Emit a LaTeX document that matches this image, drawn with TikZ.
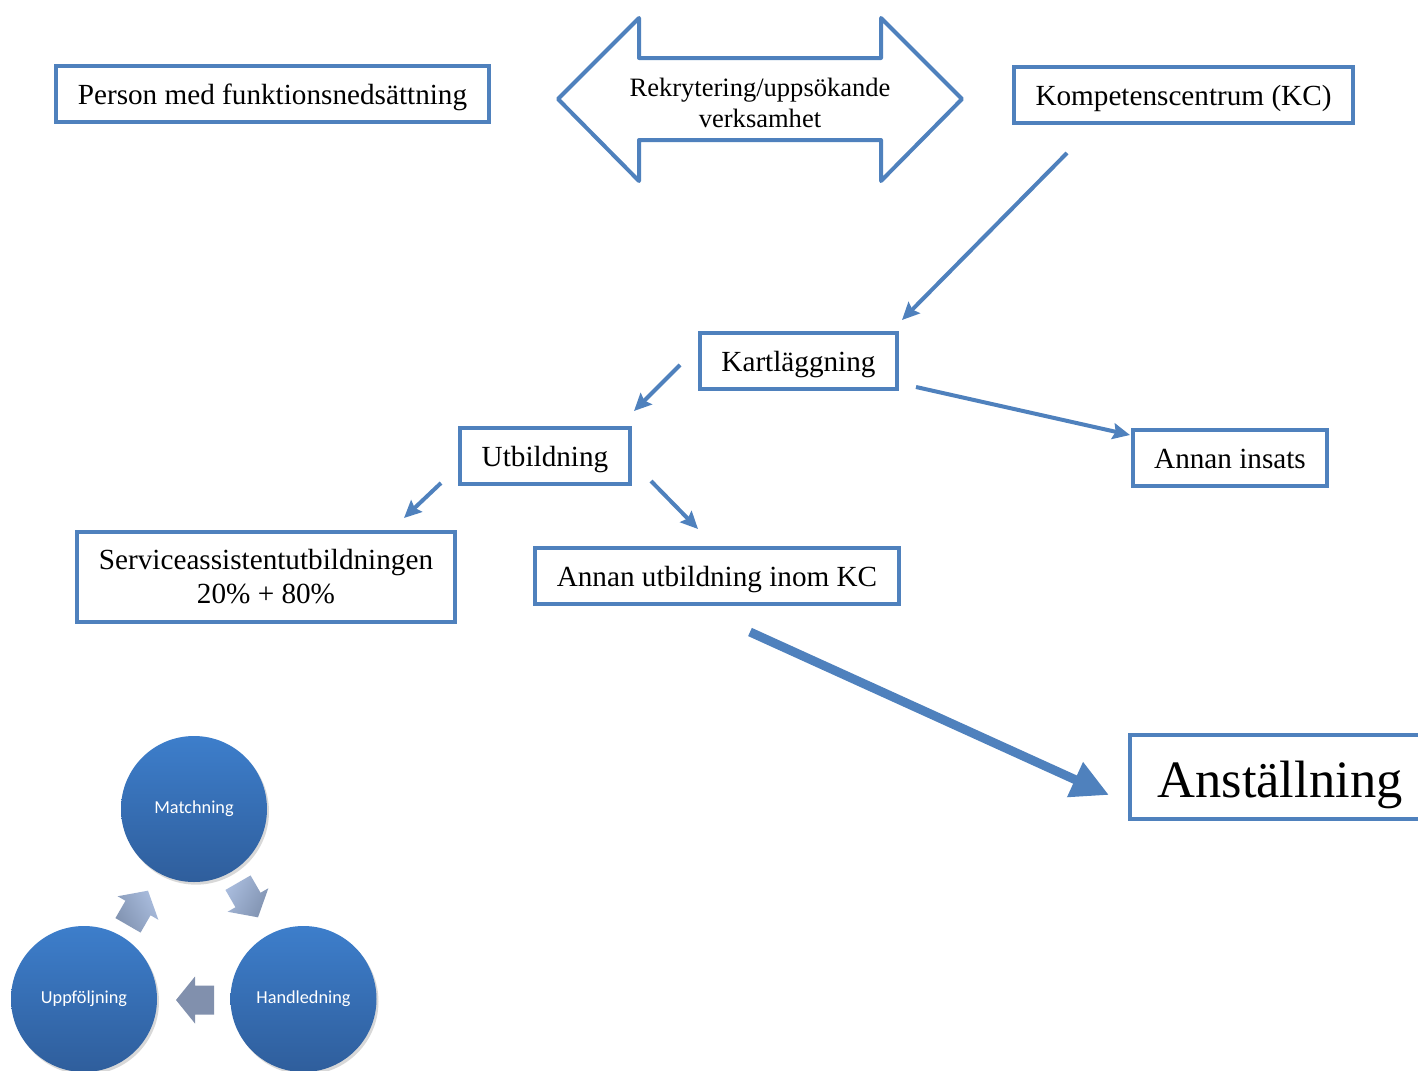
\documentclass[tikz,border=0pt]{standalone}
\usepackage{fontspec}
\setmainfont{Liberation Serif}
\newfontfamily\carlito{Carlito}
\usetikzlibrary{arrows.meta,shadows}
\definecolor{ob}{HTML}{4F81BD}
\definecolor{ctop}{HTML}{3D7ECB}
\definecolor{cbot}{HTML}{2F5E9C}
\definecolor{atop}{HTML}{A9BCDD}
\definecolor{abot}{HTML}{8193B1}
\definecolor{aflat}{HTML}{8190AD}
\tikzset{
  boxbase/.style={draw=ob, line width=3pt, fill=white, inner sep=0pt,
    font=\fontsize{21.9}{25.5}\selectfont, minimum height=42pt},
  box/.style={boxbase, align=center},
  onebox/.style={boxbase, text height=15pt, text depth=0pt},
  conn/.style={draw=ob, line width=3pt, -{Stealth[length=13pt,width=12pt,inset=2pt]}},
  disc/.style={circle, minimum size=109.5pt, inner sep=0pt, top color=ctop, bottom color=cbot,
    draw=none, text=white, font=\carlito\fontsize{13.7}{16}\selectfont,
    drop shadow={shadow xshift=1.5pt, shadow yshift=-2pt, opacity=0.3}},
  blockarrow/.style={draw=none}
}
\begin{document}
\begin{tikzpicture}[x=0.75pt,y=-0.75pt]
\useasboundingbox (0,0) rectangle (1418,1071);
\clip (0,0) rectangle (1418,1071);
\fill[white] (0,0) rectangle (1418,1071);

% boxes
\node[onebox, minimum width=324.75pt] (person) at (272.5,94) {Person med funktionsnedsättning};
\node[onebox, minimum width=254.25pt] (kc) at (1183.5,95) {Kompetenscentrum (KC)};
\node[onebox, minimum width=147.75pt] (kart) at (798.5,361) {Kartläggning};
\node[onebox, minimum width=127.5pt] (utb) at (545,456) {Utbildning};
\node[onebox, minimum width=145.5pt] (insats) at (1230,458) {Annan insats};
\node[box, minimum width=283.5pt, minimum height=67.5pt] (service) at (266,577)
  {Serviceassistentutbildningen\\20\% + 80\%};
\node[onebox, minimum width=273pt] (annanutb) at (717,576) {Annan utbildning inom KC};
\node[onebox, minimum width=225pt, minimum height=63pt, font=\fontsize{39.4}{44}\selectfont,
  text height=30pt] (anst) at (1280,777) {Anställning};

% double arrow
\draw[ob, line width=3pt, line join=round] (558,99) -- (639,18) -- (639,58) -- (881,58)
  -- (881,18) -- (962,99) -- (881,181) -- (881,140) -- (639,140) -- (639,181) -- cycle;
\node[font=\fontsize{19.9}{23.5}\selectfont, align=center] (rekr) at (760,103)
  {Rekrytering/uppsökande\\verksamhet};

% connector end points
\coordinate (kcS) at (1067,153);
\coordinate (kartN) at (902,320);
\coordinate (kartL) at (680,365);
\coordinate (utbN) at (634,411);
\coordinate (kartR) at (916,387);
\coordinate (insL) at (1130,435);
\coordinate (utbL) at (441,483);
\coordinate (servN) at (404,518);
\coordinate (utbR) at (651,481);
\coordinate (annN) at (698,529);
\coordinate (annS) at (750,632);
\coordinate (anstW) at (1109,795);

\draw[conn] (kcS) -- (kartN);
\draw[conn] (kartL) -- (utbN);
\draw[conn] (kartR) -- (insL);
\draw[conn] (utbL) -- (servN);
\draw[conn] (utbR) -- (annN);
\draw[ob, line width=6.75pt, -{Triangle[length=28pt,width=27pt]}] (annS) -- (anstW);

% cycle circles
\node[disc] (match) at (194,809) {Matchning};
\node[disc] (uppf) at (84,999) {Uppföljning};
\node[disc] (handl) at (303.5,999) {Handledning};

% block arrows
\begin{scope}[shift={(138,908)}, rotate=60]
\path[blockarrow, top color=atop, bottom color=abot, shading angle=-60]
  (-20,-14.5) -- (0,-14.5) -- (0,-23.5) -- (20,0) -- (0,23.5) -- (0,14.5) -- (-20,14.5) -- cycle;
\end{scope}
\begin{scope}[shift={(248,900)}, rotate=-60]
\path[blockarrow, top color=atop, bottom color=abot, shading angle=60]
  (-20,-14.5) -- (0,-14.5) -- (0,-23.5) -- (20,0) -- (0,23.5) -- (0,14.5) -- (-20,14.5) -- cycle;
\end{scope}
\begin{scope}[shift={(195,1000)}, rotate=180]
\fill[aflat]
  (-19,-14.5) -- (0,-14.5) -- (0,-23.5) -- (19,0) -- (0,23.5) -- (0,14.5) -- (-19,14.5) -- cycle;
\end{scope}
\end{tikzpicture}
\end{document}
